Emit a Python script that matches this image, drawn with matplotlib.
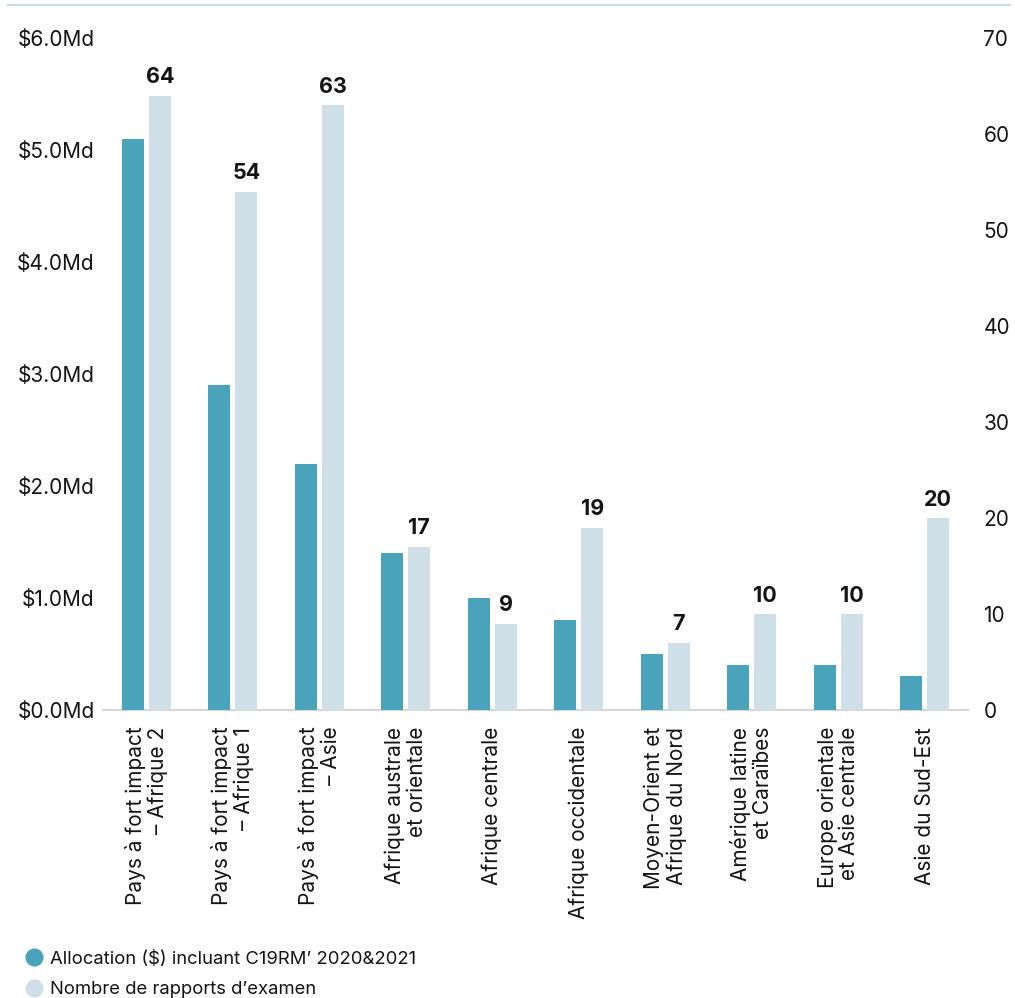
import matplotlib
matplotlib.use('Agg')
import matplotlib.pyplot as plt
import numpy as np
from matplotlib.lines import Line2D

plt.rcParams['font.family'] = ['Inter', 'DejaVu Sans']

categories = ['Pays à fort impact\n– Afrique 2', 'Pays à fort impact\n– Afrique 1',
              'Pays à fort impact\n– Asie', 'Afrique australe\net orientale',
              'Afrique centrale', 'Afrique occidentale', 'Moyen-Orient et\nAfrique du Nord',
              'Amérique latine\net Caraïbes', 'Europe orientale\net Asie centrale',
              'Asie du Sud-Est']
allocation = [5.1, 2.9, 2.2, 1.4, 1.0, 0.8, 0.5, 0.4, 0.4, 0.3]  # milliards $
reports = [64, 54, 63, 17, 9, 19, 7, 10, 10, 20]
left_ticks = [0, 1, 2, 3, 4, 5, 6]
right_ticks = [0, 10, 20, 30, 40, 50, 60, 70]

dark = '#48a3bb'
light = '#cfdfe7'
txt = '#141414'

fig = plt.figure(figsize=(10.15, 9.98), dpi=100)
ax = fig.add_axes([103 / 1015, 1 - 710 / 998, 865 / 1015, 672 / 998])
ax2 = ax.twinx()

x = np.arange(len(categories))
w = 0.255
off = 0.157
ax.bar(x - off, allocation, w, color=dark, zorder=3)
bars = ax2.bar(x + off, reports, w, color=light, zorder=3)

ax.set_xlim(-0.5, len(categories) - 0.5)
ax.set_ylim(0, 6)
ax2.set_ylim(0, 70)
ax.set_yticks(left_ticks)
ax.set_yticklabels(['${:.1f}Md'.format(v) for v in left_ticks])
ax2.set_yticks(right_ticks)

ax.set_xticks(x)
ax.set_xticklabels(categories, rotation=90, va='top', ha='center',
                   multialignment='right', fontsize=15.5, color=txt,
                   linespacing=1.1)

for a in (ax, ax2):
    for s in a.spines.values():
        s.set_visible(False)
    a.tick_params(length=0, labelsize=15, labelcolor=txt)
ax.tick_params(axis='y', pad=6)
ax2.tick_params(axis='y', pad=11)
ax.tick_params(axis='x', pad=12)
ax.spines['bottom'].set_visible(True)
ax.spines['bottom'].set_color('#d3d7da')
ax.spines['bottom'].set_linewidth(1.5)

for rect, v in zip(bars, reports):
    ax2.annotate(str(v), xy=(rect.get_x() + rect.get_width() / 2, v),
                 xytext=(0, 6), textcoords='offset points',
                 ha='center', va='bottom', fontsize=15.5, fontweight='bold', color=txt)

# top rule
fig.add_artist(Line2D([8 / 1015, 1010 / 1015], [1 - 5 / 998, 1 - 5 / 998],
                      color='#c6dde4', lw=1.5))

handles = [Line2D([], [], marker='o', ls='', markersize=12, color=dark),
           Line2D([], [], marker='o', ls='', markersize=12, color=light)]
fig.legend(handles, ['Allocation ($) incluant C19RM\u2019 2020&2021', 'Nombre de rapports d\u2019examen'],
           loc='lower left', bbox_to_anchor=(6 / 1015, -17 / 998), frameon=False,
           fontsize=13.3, handletextpad=0.3, labelspacing=0.75, handlelength=1.2,
           labelcolor=txt)

fig.savefig('out.png', dpi=100)
